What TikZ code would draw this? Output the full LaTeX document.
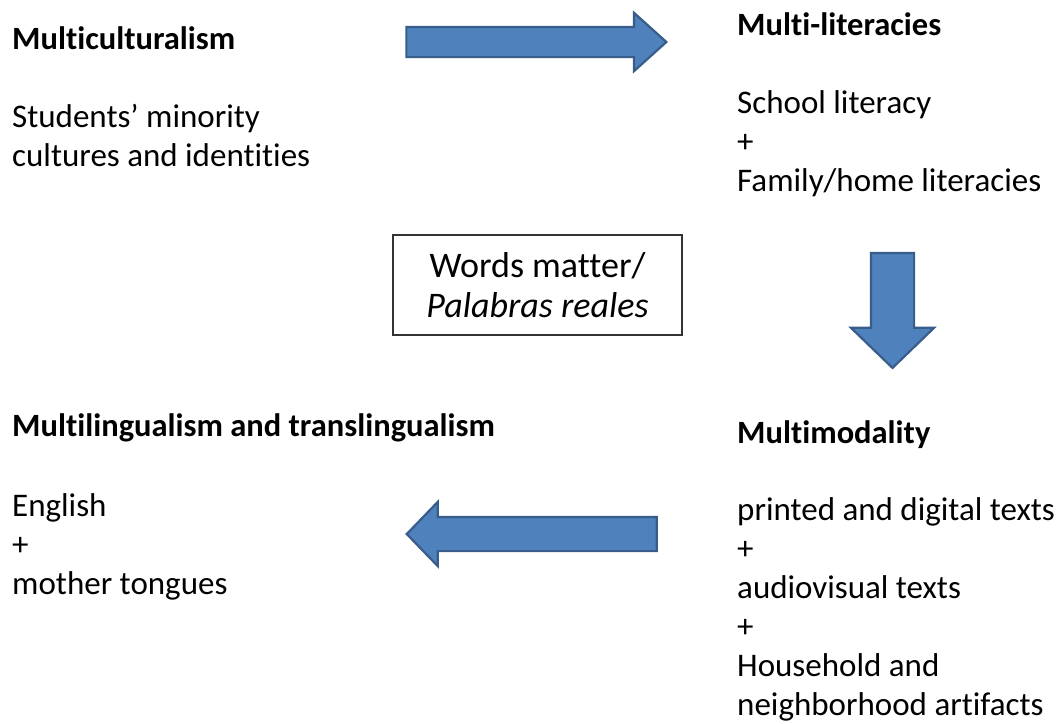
\documentclass[tikz,border=0pt]{standalone}
\usepackage{fontspec}
\setmainfont{Carlito}[Ligatures={NoCommon}]
\usetikzlibrary{positioning, shapes.arrows}
\definecolor{arrowfill}{HTML}{4F81BD}
\definecolor{arrowedge}{HTML}{385D8A}

\begin{document}
\begin{tikzpicture}[
        x=1pt, y=-1pt,
        font=\fontsize{33}{39}\selectfont,
        head/.style={font=\fontsize{32.5}{39}\selectfont\bfseries, anchor=base west, inner sep=0},
        txt/.style={align=left, anchor=base west, inner sep=0},
        blockarrow/.style={single arrow, draw=arrowedge, fill=arrowfill, line width=2.2pt,
                    inner sep=0, single arrow head indent=0},
        center/.style={draw=black!80, line width=1.2pt, align=center, inner sep=0,
                    minimum width=289, minimum height=100, font=\fontsize{36}{40}\selectfont}
    ]
    \useasboundingbox (0,0) rectangle (1060,723);

    \node[head] (culture) at (12,49) {Multiculturalism};
    \node[txt] (culturetxt) at (12,166) {Students' minority\\cultures and identities};

    \node[head] (literacy) at (737,35) {Multi-literacies};
    \node[txt] (literacytxt) at (737,191) {School literacy\\+\\Family/home literacies};

    \node[center] (words) at (537.5,285) {Words matter/\\\textit{Palabras reales}};

    \node[head] (lingual) at (12,436) {Multilingualism and translingualism};
    \node[txt] (lingualtxt) at (12,594) {English\\+\\mother tongues};

    \node[head] (modal) at (737,443) {Multimodality};
    \node[txt] (modaltxt) at (737,715) {printed and digital texts\\+\\audiovisual texts\\+\\Household and\\neighborhood artifacts};

    % block arrows between the four corners
    \node[blockarrow, inner ysep=14, minimum width=58, single arrow head extend=14,
          single arrow tip angle=84, minimum height=260] (toright) at (528,42) {};
    \node[blockarrow, inner xsep=20.5, minimum width=81, single arrow head extend=20,
          single arrow tip angle=92, minimum height=115, shape border rotate=270] (todown) at (892.5,300) {};
    \node[blockarrow, inner ysep=16, minimum width=62, single arrow head extend=15,
          single arrow tip angle=92, minimum height=250, shape border rotate=180] (toleft) at (540,534) {};

\end{tikzpicture}
\end{document}
